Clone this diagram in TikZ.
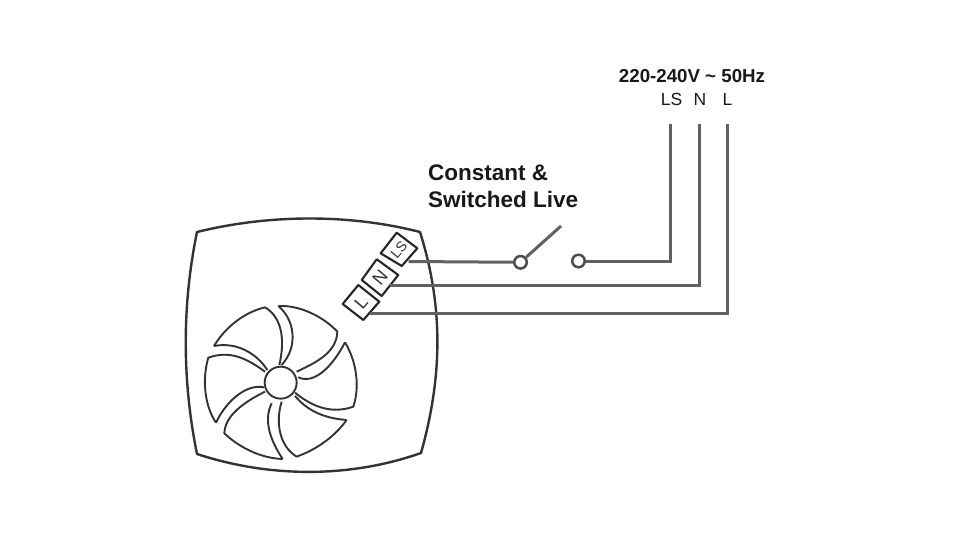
\documentclass[tikz,border=0pt]{standalone}
\usepackage{fontspec}
\setmainfont{Liberation Sans}
\tikzset{
  wire/.style={draw=black!62,line width=3pt,line join=miter},
  outline/.style={draw=black!80,line width=2.4pt,line join=round},
  blade/.style={draw=black!80,line width=1.9pt,line join=round},
  term/.style={draw=black!85,line width=2.1pt,line join=round},
  contact/.style={circle,draw=black!70,line width=2.5pt,fill=white,minimum size=12.5pt,inner sep=0pt},
  lbl/.style={inner sep=0pt,text=black!90},
  tlabel/.style={inner sep=0pt,text=black!80},
  anchorpt/.style={inner sep=0pt,minimum size=0pt}
}
\begin{document}
\begin{tikzpicture}[x=1pt,y=-1pt]
\useasboundingbox (0,0) rectangle (960,540);
\fill[white] (0,0) rectangle (960,540);
% housing
\draw[outline] (197,232) .. controls (270,214) and (350,214) .. (420,232)
  .. controls (443,305) and (443,375) .. (421,453)
  .. controls (350,478) and (270,478) .. (197,454)
  .. controls (182,380) and (182,305) .. (197,232) -- cycle;
% fan
\begin{scope}[shift={(190,290)},x=0.3333pt,y=-0.3333pt]
\draw[blade] (72,168) .. controls (110,105) and (170,65) .. (225,52)
  .. controls (265,75) and (290,130) .. (268,225);
\draw[blade] (72,168) .. controls (140,155) and (200,190) .. (232,240);
\draw[blade] (265,48) .. controls (330,45) and (400,80) .. (442,125)
  .. controls (440,185) and (385,215) .. (320,245);
\draw[blade] (265,48) .. controls (315,90) and (325,170) .. (275,225);
\draw[blade] (465,157) .. controls (500,215) and (510,290) .. (490,350)
  .. controls (420,375) and (360,345) .. (315,308);
\draw[blade] (465,157) .. controls (430,225) and (375,285) .. (325,262);
\draw[blade] (470,390) .. controls (430,445) and (375,480) .. (320,500)
  .. controls (270,470) and (255,400) .. (275,335);
\draw[blade] (470,390) .. controls (400,385) and (350,360) .. (315,318);
\draw[blade] (278,507) .. controls (210,505) and (145,470) .. (103,430)
  .. controls (105,375) and (165,335) .. (225,305);
\draw[blade] (278,507) .. controls (240,450) and (220,390) .. (245,340);
\draw[blade] (78,398) .. controls (45,350) and (35,270) .. (55,203)
  .. controls (120,180) and (170,205) .. (225,245);
\draw[blade] (78,398) .. controls (105,340) and (165,280) .. (222,292);
\draw[blade,fill=white] (272,278) circle (48);
\end{scope}
% terminals
\draw[term,fill=white] (342.7,304) -- (358.3,285) -- (379.3,301.7) -- (363.3,320) -- cycle;
\draw[term,fill=white] (361.7,280) -- (376.7,259.3) -- (398.3,275) -- (381.7,296) -- cycle;
\draw[term,fill=white] (380.7,253.3) -- (396.7,232.7) -- (417.3,248.3) -- (401.7,266) -- cycle;
\node[tlabel,rotate=50,font=\fontsize{18}{18}\selectfont] (tl) at (361,302.5) {L};
\node[tlabel,rotate=50,font=\fontsize{18}{18}\selectfont] (tn) at (380,277.5) {N};
\node[tlabel,rotate=50,font=\fontsize{14}{14}\selectfont] (tls) at (399,249.5) {LS};
% wire ends
\coordinate (wls) at (408.5,261.5);
\coordinate (wn) at (390,285);
\coordinate (wl) at (370,313);
\node[anchorpt] (sup) at (670,124) {};
\node[anchorpt] (nup) at (699,124) {};
\node[anchorpt] (lup) at (727,124) {};
\node[contact] (sw1) at (520.5,262.3) {};
\node[contact] (sw2) at (578.5,261) {};
\coordinate (bladeend) at (561,226);
\draw[wire] (wls) -- (sw1);
\draw[wire] (sw1) -- (bladeend);
\draw[wire] (sw2) -- (sw2 -| sup) -- (sup.center);
\draw[wire] (wn) -- (wn -| nup) -- (nup.center);
\draw[wire] (wl) -- (wl -| lup) -- (lup.center);
% labels
\node[lbl,font=\bfseries\fontsize{18.7}{18.7}\selectfont] (title) at (692,76) {220-240V \textasciitilde{} 50Hz};
\node[lbl,font=\fontsize{17.5}{17.5}\selectfont] (ls) at (671.5,99) {LS};
\node[lbl,font=\fontsize{17.5}{17.5}\selectfont] (n) at (700,99) {N};
\node[lbl,font=\fontsize{17.5}{17.5}\selectfont] (l) at (727.5,99) {L};
\node[lbl,anchor=west,font=\bfseries\fontsize{22.5}{22.5}\selectfont] (c1) at (428,172.5) {Constant \&};
\node[lbl,anchor=west,font=\bfseries\fontsize{22.5}{22.5}\selectfont] (c2) at (428,199.5) {Switched Live};
\end{tikzpicture}
\end{document}
